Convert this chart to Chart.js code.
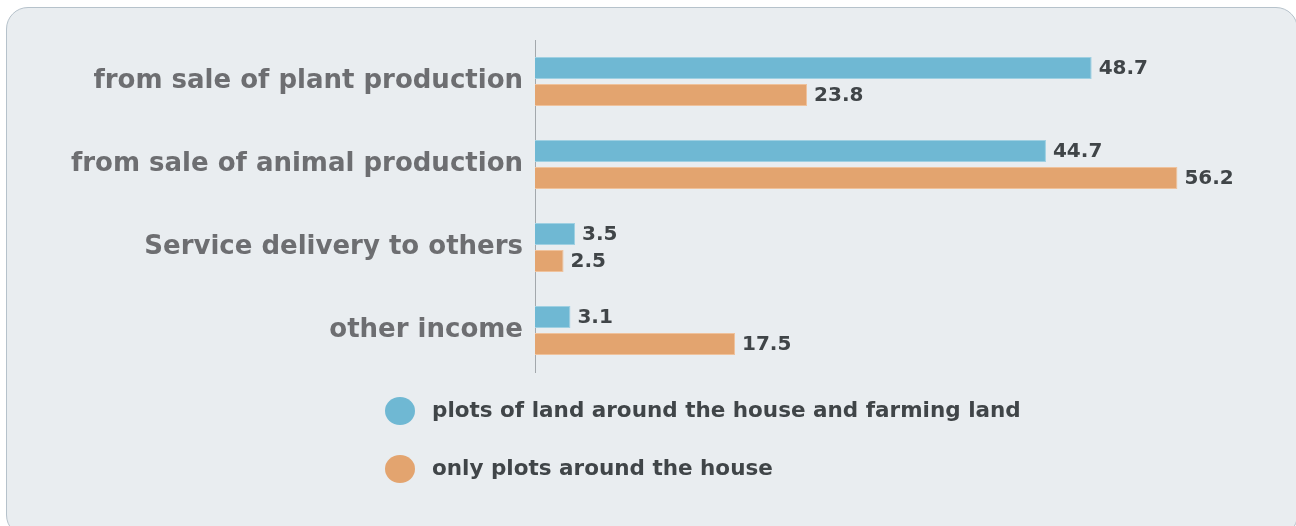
<!DOCTYPE html>
<html>
<head>
<meta charset="utf-8">
<script src="https://cdn.jsdelivr.net/npm/chart.js@4"></script>
<style>
    html, body { margin: 0; padding: 0; background: #ffffff; overflow: hidden; }
    #wrap { position: relative; width: 1296px; height: 526px; }
    #card {
        position: absolute; left: 6px; top: 7px; width: 1292px; height: 530px;
        box-sizing: border-box; border: 1px solid #b6c2cb; border-radius: 22px;
        background: #e9edf0;
    }
    #chart { position: absolute; left: 0; top: 0; }
</style>
</head>
<body>
<div id="wrap">
    <div id="card"></div>
    <canvas id="chart" width="1296" height="526"></canvas>
</div>
<script>
const categories = [
    "from sale of plant production",
    "from sale of animal production",
    "Service delivery to others",
    "other income"
];
const seriesNames = [
    "plots of land around the house and farming land",
    "only plots around the house"
];
const farmingLand = [48.7, 44.7, 3.5, 3.1];
const houseOnly = [23.8, 56.2, 2.5, 17.5];

const FONT = "'DejaVu Sans', sans-serif";

// value labels at the end of each bar
const valueLabels = {
    id: "valueLabels",
    afterDatasetsDraw(chart) {
        const ctx = chart.ctx;
        ctx.save();
        ctx.font = "bold 20px " + FONT;
        ctx.fillStyle = "#404548";
        ctx.textAlign = "left";
        ctx.textBaseline = "middle";
        chart.data.datasets.forEach((ds, i) => {
            chart.getDatasetMeta(i).data.forEach((bar, j) => {
                ctx.fillText(ds.data[j].toFixed(1), bar.x + 7, bar.y + 1);
            });
        });
        ctx.restore();
    }
};

// legend: one item per line, under the plot
const stackedLegend = {
    id: "stackedLegend",
    afterDraw(chart) {
        const ctx = chart.ctx;
        ctx.save();
        ctx.font = "bold 21.5px " + FONT;
        ctx.textBaseline = "middle";
        ctx.textAlign = "left";
        chart.data.datasets.forEach((ds, i) => {
            const y = 411 + i * 58;
            ctx.fillStyle = ds.backgroundColor;
            ctx.beginPath();
            ctx.ellipse(400, y, 15, 14, 0, 0, Math.PI * 2);
            ctx.fill();
            ctx.fillStyle = "#404548";
            ctx.fillText(ds.label, 432, y);
        });
        ctx.restore();
    }
};

new Chart(document.getElementById("chart"), {
    type: "bar",
    data: {
        labels: categories,
        datasets: [{
            label: seriesNames[0],
            data: farmingLand,
            backgroundColor: "#6fb8d3",
            borderColor: "#9fd0e2",
            borderWidth: 1,
            categoryPercentage: 0.65,
            barPercentage: 0.815
        }, {
            label: seriesNames[1],
            data: houseOnly,
            backgroundColor: "#e3a46f",
            borderColor: "#efc29c",
            borderWidth: 1,
            categoryPercentage: 0.65,
            barPercentage: 0.815
        }]
    },
    options: {
        indexAxis: "y",
        responsive: false,
        animation: false,
        layout: { padding: { top: 40, bottom: 154, left: 0, right: 18 } },
        plugins: {
            legend: { display: false },
            tooltip: { enabled: false }
        },
        scales: {
            x: { display: false, min: 0, max: 65 },
            y: {
                afterFit(scale) { scale.width = 535; },
                grid: { display: false, drawTicks: false },
                border: { display: true, color: "#a3a8ac", width: 1 },
                ticks: {
                    padding: 12,
                    color: "#6d6e71",
                    font: { family: FONT, size: 26, weight: "bold" }
                }
            }
        }
    },
    plugins: [valueLabels, stackedLegend]
});
</script>
</body>
</html>
